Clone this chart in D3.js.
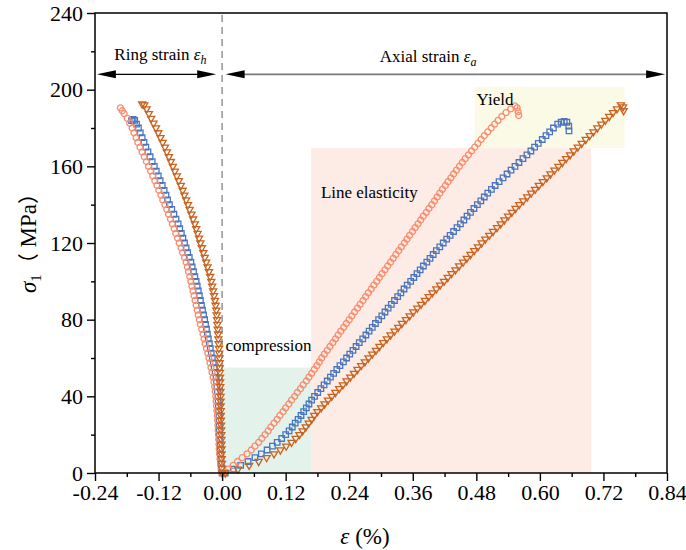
<!DOCTYPE html>
<html>
<head>
<meta charset="utf-8">
<script src="https://cdn.jsdelivr.net/npm/d3@7"></script>
<style>
  body { margin: 0; background: #fff; }
  svg { display: block; }
  text { font-family: "Liberation Serif", "Times New Roman", serif; fill: #000; }
  .cjk { font-family: "Noto Sans CJK SC", sans-serif; }
</style>
</head>
<body>
<svg id="chart" width="686" height="550"></svg>
<script>
// Axis ticks
const xTicks = [-0.24, -0.12, 0, 0.12, 0.24, 0.36, 0.48, 0.60, 0.72, 0.84];
const xMinorTicks = [-0.18, -0.06, 0.06, 0.18, 0.30, 0.42, 0.54, 0.66, 0.78];
const yTicks = [0, 40, 80, 120, 160, 200, 240];
const yMinorTicks = [20, 60, 100, 140, 180, 220];

// Ring (hoop) strain branches, [strain %, stress MPa]
const ringCircle = [[0,0],[-0.002,2.5],[-0.003,5],[-0.004,7.5],[-0.005,10],[-0.0055,12.5],[-0.006,15],[-0.0065,17.5],[-0.007,20],[-0.0075,22.5],[-0.008,25],[-0.0085,27.5],[-0.009,30],[-0.0098,32.5],[-0.0105,35],[-0.0113,37.5],[-0.012,40],[-0.013,42.5],[-0.014,45],[-0.0155,47.5],[-0.017,50],[-0.019,52.5],[-0.021,55],[-0.023,57.5],[-0.025,60],[-0.027,62.5],[-0.0295,65],[-0.032,67.5],[-0.034,70],[-0.036,72.5],[-0.0385,75],[-0.041,77.5],[-0.043,80],[-0.045,82.5],[-0.047,85],[-0.049,87.5],[-0.051,90],[-0.053,92.5],[-0.055,95],[-0.057,97.5],[-0.059,100],[-0.061,102.5],[-0.0635,105],[-0.0655,107.5],[-0.068,110],[-0.071,112.5],[-0.0745,115],[-0.0775,117.5],[-0.081,120],[-0.084,122.5],[-0.0875,125],[-0.0905,127.5],[-0.094,130],[-0.0975,132.5],[-0.101,135],[-0.1045,137.5],[-0.108,140],[-0.112,142.5],[-0.1155,145],[-0.1195,147.5],[-0.123,150],[-0.127,152.5],[-0.131,155],[-0.135,157.5],[-0.139,160],[-0.143,162.5],[-0.147,165],[-0.151,167.5],[-0.155,170],[-0.159,172.5],[-0.1625,175],[-0.1665,177.5],[-0.170,180],[-0.1745,182.5],[-0.179,185],[-0.185,187.5],[-0.1885,189],[-0.192,190.5]];

const ringSquare = [[0,0],[-0.001,2.5],[-0.002,5],[-0.0025,7.5],[-0.003,10],[-0.0035,12.5],[-0.004,15],[-0.0045,17.5],[-0.005,20],[-0.0053,22.5],[-0.0055,25],[-0.0058,27.5],[-0.006,30],[-0.0065,32.5],[-0.007,35],[-0.0075,37.5],[-0.008,40],[-0.009,42.5],[-0.0098,45],[-0.0106,47.5],[-0.0115,50],[-0.013,52.5],[-0.015,55],[-0.0167,57.5],[-0.0185,60],[-0.0205,62.5],[-0.0223,65],[-0.0241,67.5],[-0.026,70],[-0.0278,72.5],[-0.0295,75],[-0.0313,77.5],[-0.033,80],[-0.035,82.5],[-0.037,85],[-0.039,87.5],[-0.041,90],[-0.043,92.5],[-0.045,95],[-0.047,97.5],[-0.049,100],[-0.0515,102.5],[-0.054,105],[-0.0565,107.5],[-0.059,110],[-0.062,112.5],[-0.065,115],[-0.068,117.5],[-0.071,120],[-0.074,122.5],[-0.077,125],[-0.080,127.5],[-0.083,130],[-0.087,132.5],[-0.091,135],[-0.095,137.5],[-0.0995,140],[-0.103,142.5],[-0.106,145],[-0.1095,147.5],[-0.113,150],[-0.117,152.5],[-0.1205,155],[-0.1243,157.5],[-0.128,160],[-0.132,162.5],[-0.136,165],[-0.140,167.5],[-0.144,170],[-0.1475,172.5],[-0.151,175],[-0.1545,177.5],[-0.158,180],[-0.1615,182],[-0.165,184],[-0.168,184.5],[-0.171,183.8]];

const ringTriangle = [[0,0],[-0.0003,2.5],[-0.0005,5],[-0.0008,7.5],[-0.001,10],[-0.0011,12.5],[-0.0013,15],[-0.0014,17.5],[-0.0015,20],[-0.0018,22.5],[-0.002,25],[-0.0023,27.5],[-0.0025,30],[-0.0026,32.5],[-0.0028,35],[-0.0029,37.5],[-0.003,40],[-0.0033,42.5],[-0.0035,45],[-0.0038,47.5],[-0.004,50],[-0.0043,52.5],[-0.0045,55],[-0.0048,57.5],[-0.005,60],[-0.0055,62.5],[-0.006,65],[-0.0065,67.5],[-0.007,70],[-0.0076,72.5],[-0.0083,75],[-0.0089,77.5],[-0.0095,80],[-0.0103,82.5],[-0.011,85],[-0.0123,87.5],[-0.0135,90],[-0.0152,92.5],[-0.017,95],[-0.0188,97.5],[-0.0205,100],[-0.0226,102.5],[-0.0248,105],[-0.0275,107.5],[-0.030,110],[-0.0328,112.5],[-0.0355,115],[-0.0383,117.5],[-0.041,120],[-0.0436,122.5],[-0.0463,125],[-0.0489,127.5],[-0.0515,130],[-0.0548,132.5],[-0.058,135],[-0.0613,137.5],[-0.0645,140],[-0.0679,142.5],[-0.0713,145],[-0.0746,147.5],[-0.078,150],[-0.0818,152.5],[-0.0855,155],[-0.0893,157.5],[-0.093,160],[-0.0968,162.5],[-0.1005,165],[-0.1043,167.5],[-0.108,170],[-0.1122,172.5],[-0.1163,175],[-0.1205,177.5],[-0.125,180],[-0.1295,182.5],[-0.134,185],[-0.1383,187.5],[-0.1425,190],[-0.147,192],[-0.151,192.5]];

// Axial strain branches, [strain %, stress MPa]
const axialCircle = [[0.004,0],[0.012,2],[0.021,4],[0.029,6],[0.038,8],[0.047,10],[0.055,12],[0.062,14],[0.069,16],[0.075,18],[0.081,20],[0.087,22],[0.092,24],[0.098,26],[0.104,28],[0.109,30],[0.115,32],[0.120,34],[0.126,36],[0.131,38],[0.137,40],[0.142,42],[0.148,44],[0.153,46],[0.159,48],[0.164,50],[0.169,52],[0.174,54],[0.179,56],[0.1835,58],[0.188,60],[0.193,62],[0.1985,64],[0.2035,66],[0.209,68],[0.214,70],[0.219,72],[0.224,74],[0.2295,76],[0.2345,78],[0.240,80],[0.245,82],[0.250,84],[0.2555,86],[0.2605,88],[0.266,90],[0.271,92],[0.276,94],[0.2815,96],[0.2865,98],[0.292,100],[0.297,102],[0.302,104],[0.3075,106],[0.3125,108],[0.318,110],[0.323,112],[0.328,114],[0.3335,116],[0.3385,118],[0.344,120],[0.349,122],[0.354,124],[0.3595,126],[0.3645,128],[0.370,130],[0.375,132],[0.380,134],[0.3855,136],[0.3905,138],[0.396,140],[0.401,142],[0.406,144],[0.411,146],[0.416,148],[0.4215,150],[0.4265,152],[0.432,154],[0.437,156],[0.4425,158],[0.448,160],[0.4535,162],[0.459,164],[0.465,166],[0.471,168],[0.477,170],[0.483,172],[0.489,174],[0.495,176],[0.5015,178],[0.508,180],[0.5145,182],[0.521,184],[0.528,186],[0.536,188],[0.545,190],[0.553,191.5],[0.557,190.5],[0.559,188.5],[0.560,186.5]];

const axialSquare = [[0.006,0],[0.021,2],[0.035,4],[0.049,6],[0.062,8],[0.074,10],[0.085,12],[0.095,14],[0.104,16],[0.1125,18],[0.120,20],[0.1265,22],[0.1325,24],[0.138,26],[0.1435,28],[0.149,30],[0.154,32],[0.159,34],[0.164,36],[0.169,38],[0.1745,40],[0.1805,42],[0.1865,44],[0.1925,46],[0.1985,48],[0.2045,50],[0.2105,52],[0.2165,54],[0.2225,56],[0.229,58],[0.235,60],[0.241,62],[0.247,64],[0.253,66],[0.259,68],[0.2655,70],[0.2715,72],[0.2775,74],[0.2835,76],[0.2895,78],[0.2955,80],[0.3015,82],[0.3075,84],[0.3135,86],[0.3195,88],[0.3255,90],[0.3315,92],[0.3375,94],[0.3435,96],[0.3495,98],[0.356,100],[0.362,102],[0.368,104],[0.374,106],[0.380,108],[0.3865,110],[0.3925,112],[0.3985,114],[0.4045,116],[0.411,118],[0.4175,120],[0.424,122],[0.4305,124],[0.437,126],[0.4435,128],[0.450,130],[0.4565,132],[0.4625,134],[0.469,136],[0.4755,138],[0.482,140],[0.4885,142],[0.495,144],[0.5015,146],[0.5085,148],[0.5155,150],[0.523,152],[0.5305,154],[0.538,156],[0.5455,158],[0.553,160],[0.5605,162],[0.568,164],[0.5755,166],[0.583,168],[0.590,170],[0.597,172],[0.6045,174],[0.6115,176],[0.6185,178],[0.6255,180],[0.6335,182],[0.640,183],[0.646,183.4],[0.651,183],[0.6545,181],[0.655,178.5]];

const axialTriangle = [[0.006,0],[0.030,2],[0.051,4],[0.069,6],[0.084,8],[0.098,10],[0.110,12],[0.121,14],[0.131,16],[0.139,18],[0.146,20],[0.152,22],[0.158,24],[0.1635,26],[0.169,28],[0.174,30],[0.180,32],[0.187,34],[0.1935,36],[0.200,38],[0.207,40],[0.214,42],[0.221,44],[0.228,46],[0.235,48],[0.242,50],[0.249,52],[0.2555,54],[0.2625,56],[0.2695,58],[0.2765,60],[0.2835,62],[0.2905,64],[0.297,66],[0.304,68],[0.311,70],[0.318,72],[0.3255,74],[0.3325,76],[0.3395,78],[0.347,80],[0.354,82],[0.361,84],[0.3685,86],[0.3755,88],[0.383,90],[0.390,92],[0.397,94],[0.4045,96],[0.4115,98],[0.419,100],[0.426,102],[0.433,104],[0.4405,106],[0.4475,108],[0.455,110],[0.462,112],[0.469,114],[0.476,116],[0.483,118],[0.490,120],[0.497,122],[0.5045,124],[0.5115,126],[0.519,128],[0.526,130],[0.533,132],[0.540,134],[0.547,136],[0.554,138],[0.561,140],[0.5685,142],[0.576,144],[0.5835,146],[0.591,148],[0.598,150],[0.6055,152],[0.613,154],[0.620,156],[0.6275,158],[0.635,160],[0.6425,162],[0.6495,164],[0.657,166],[0.664,168],[0.6715,170],[0.679,172],[0.6865,174],[0.694,176],[0.701,178],[0.7085,180],[0.716,182],[0.7235,184],[0.731,186],[0.738,188],[0.7455,190],[0.753,192],[0.757,191],[0.758,189]];

// Deformation stage zones: strain range and stress range
const zoneNames = ["compression", "Line elasticity", "Yield"];
const zoneStrain = [[0.003, 0.168], [0.168, 0.697], [0.477, 0.760]];
const zoneStress = [[0, 55], [0, 169.5], [169.5, 201.5]];

const svg = d3.select("#chart");
const m = { left: 95, right: 667, top: 13, bottom: 473 };
const serif = "'Liberation Serif', 'Times New Roman', serif";

const x = d3.scaleLinear().domain([-0.24, 0.84]).range([m.left, m.right]);
const y = d3.scaleLinear().domain([0, 240]).range([m.bottom, m.top]);

// Stage background bands
const zoneFill = ["#e3f2eb", "#fdebe5", "#fafae6"];
svg.append("g").selectAll("rect").data(zoneNames).join("rect")
  .attr("x", (d, i) => x(zoneStrain[i][0]))
  .attr("y", (d, i) => y(zoneStress[i][1]))
  .attr("width", (d, i) => x(zoneStrain[i][1]) - x(zoneStrain[i][0]))
  .attr("height", (d, i) => y(zoneStress[i][0]) - y(zoneStress[i][1]))
  .attr("fill", (d, i) => zoneFill[i]);

// Zero-strain divider
svg.append("line")
  .attr("x1", x(0)).attr("x2", x(0))
  .attr("y1", y(240) + 2).attr("y2", y(0))
  .attr("stroke", "#9b9b9b").attr("stroke-width", 1.6)
  .attr("stroke-dasharray", "7,5");

// Series markers
const series = [
  { color: "#4a76bd", shape: d3.symbolSquare, size: 30, rot: 0, pts: ringSquare.concat(axialSquare) },
  { color: "#f98d6d", shape: d3.symbolCircle, size: 28, rot: 0, pts: ringCircle.concat(axialCircle) },
  { color: "#c9631f", shape: d3.symbolTriangle, size: 22, rot: 180, pts: ringTriangle.concat(axialTriangle) }
];
series.forEach(s => {
  const sym = d3.symbol().type(s.shape).size(s.size);
  svg.append("g").selectAll("path").data(s.pts).join("path")
    .attr("d", sym)
    .attr("transform", d => `translate(${x(d[0])},${y(d[1])}) rotate(${s.rot})`)
    .attr("fill", "none")
    .attr("stroke", s.color)
    .attr("stroke-width", 1.3);
});

// Axes
const fmt = d => d.toFixed(2).replace("-0.00", "0.00");
const xAxis = svg.append("g").attr("transform", `translate(0,${m.bottom})`)
  .call(d3.axisBottom(x).tickValues(xTicks).tickFormat(fmt).tickSize(8).tickSizeOuter(0).tickPadding(3));
const xMinor = svg.append("g").attr("transform", `translate(0,${m.bottom})`)
  .call(d3.axisBottom(x).tickValues(xMinorTicks).tickFormat("").tickSize(4).tickSizeOuter(0));
const yAxis = svg.append("g").attr("transform", `translate(${m.left},0)`)
  .call(d3.axisLeft(y).tickValues(yTicks).tickFormat(d3.format("d")).tickSize(8).tickSizeOuter(0).tickPadding(4));
const yMinor = svg.append("g").attr("transform", `translate(${m.left},0)`)
  .call(d3.axisLeft(y).tickValues(yMinorTicks).tickFormat("").tickSize(4).tickSizeOuter(0));
[xAxis, xMinor, yAxis, yMinor].forEach(g => {
  g.attr("font-family", null);
  g.select(".domain").remove();
  g.selectAll(".tick line").attr("stroke", "#000").attr("stroke-width", 1.4);
  g.selectAll(".tick text").style("font-family", serif).attr("font-size", 22).attr("fill", "#000");
});

// Frame
svg.append("rect")
  .attr("x", m.left).attr("y", m.top)
  .attr("width", m.right - m.left).attr("height", m.bottom - m.top)
  .attr("fill", "none").attr("stroke", "#000").attr("stroke-width", 1.5);

// Strain-direction arrows
const arrowLevel = 208;
const ringSpan = [-0.2365, -0.0112];
const axialSpan = [0.0066, 0.8365];
function head(px, py, dir) {
  const L = 19, h = 4;
  return `M${px},${py} L${px - dir * L},${py - h} L${px - dir * L},${py + h} Z`;
}
const ay = y(arrowLevel);
svg.append("line").attr("x1", x(ringSpan[0]) + 10).attr("x2", x(ringSpan[1]) - 10)
  .attr("y1", ay).attr("y2", ay).attr("stroke", "#000").attr("stroke-width", 1.3);
svg.append("path").attr("d", head(x(ringSpan[0]), ay, -1)).attr("fill", "#000");
svg.append("path").attr("d", head(x(ringSpan[1]), ay, 1)).attr("fill", "#000");
svg.append("line").attr("x1", x(axialSpan[0]) + 10).attr("x2", x(axialSpan[1]) - 10)
  .attr("y1", ay).attr("y2", ay).attr("stroke", "#7a7a7a").attr("stroke-width", 1.6);
svg.append("path").attr("d", head(x(axialSpan[0]), ay, -1)).attr("fill", "#000");
svg.append("path").attr("d", head(x(axialSpan[1]), ay, 1)).attr("fill", "#000");

// Annotation text
function strainLabel(sx, sy, word, sub) {
  const t = svg.append("text").attr("x", x(sx)).attr("y", y(sy)).attr("font-size", 17);
  t.append("tspan").text(word + " ");
  t.append("tspan").attr("font-style", "italic").text("ε");
  t.append("tspan").attr("font-style", "italic").attr("font-size", 12).attr("dy", 4).text(sub);
}
strainLabel(-0.2035, 215.3, "Ring strain", "h");
strainLabel(0.2975, 214.3, "Axial strain", "a");

const zoneLabelPos = [[0.0065, 63.5], [0.1865, 143.5], [0.4805, 191.8]];
svg.append("g").selectAll("text").data(zoneNames).join("text")
  .attr("x", (d, i) => x(zoneLabelPos[i][0]))
  .attr("y", (d, i) => y(zoneLabelPos[i][1]))
  .attr("font-size", 17)
  .text(d => d);

// Axis titles
const xt = svg.append("text").attr("x", 365).attr("y", 544).attr("text-anchor", "middle").attr("font-size", 23);
xt.append("tspan").attr("font-style", "italic").text("ε");
xt.append("tspan").text(" (%)");

const yt = svg.append("text").attr("transform", "translate(36,238) rotate(-90)")
  .attr("text-anchor", "middle").attr("font-size", 23);
yt.append("tspan").attr("font-style", "italic").text("σ");
yt.append("tspan").attr("font-size", 15).attr("dy", 5).text("1");
yt.append("tspan").attr("dy", -5).attr("class", "cjk").attr("font-size", 21).text("（");
yt.append("tspan").text(" MPa");
yt.append("tspan").attr("class", "cjk").attr("font-size", 21).text("）");
</script>
</body>
</html>
